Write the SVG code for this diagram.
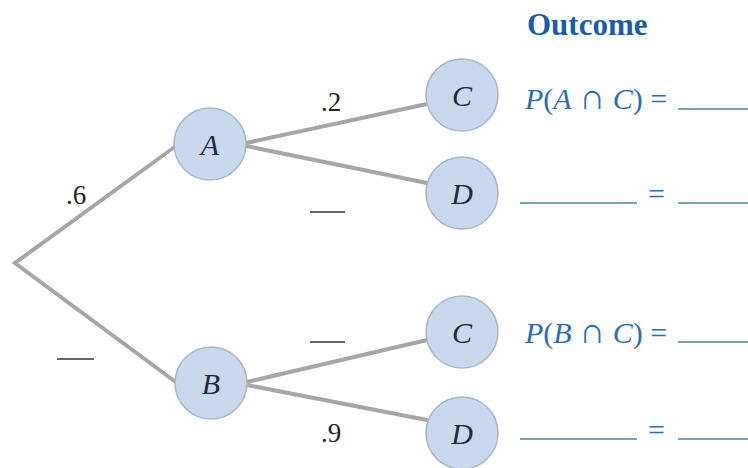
<svg xmlns="http://www.w3.org/2000/svg" width="748" height="468" viewBox="0 0 748 468">
  <style>
    .edge { stroke: #a6a6a6; stroke-width: 4; fill: none; stroke-linecap: round; }
    .node circle { fill: #c8d9ee; stroke: #a9b5c6; stroke-width: 1.5; }
    .node text { font-family: "Liberation Serif", serif; font-style: italic; font-size: 30px; fill: #1e2a3a; text-anchor: middle; }
    .prob { font-family: "Liberation Serif", serif; font-size: 27px; fill: #222; }
    .blank { stroke: #333; stroke-width: 1.5; }
    .head { font-family: "Liberation Serif", serif; font-weight: bold; font-size: 31px; fill: #1b5ca6; }
    .math { font-family: "Liberation Serif", serif; font-size: 30px; fill: #2b6cb8; }
    .math .i { font-style: italic; }
    .math .cap { font-size: 36px; }
    .fill { stroke: #4f8097; stroke-width: 1.5; }
  </style>

  <!-- branches -->
  <g id="connectors">
    <polyline class="edge" points="176,146 15,263 177,383"/>
    <line class="edge" x1="246" y1="143" x2="427" y2="104"/>
    <line class="edge" x1="246" y1="146" x2="427" y2="183"/>
    <line class="edge" x1="247" y1="382" x2="427" y2="340"/>
    <line class="edge" x1="247" y1="385" x2="427" y2="420"/>
  </g>

  <!-- branch probabilities -->
  <text class="prob" x="66" y="204">.6</text>
  <text class="prob" x="321" y="111">.2</text>
  <text class="prob" x="321" y="442">.9</text>
  <line class="blank" x1="57" y1="359" x2="94" y2="359"/>
  <line class="blank" x1="310" y1="212" x2="345" y2="212"/>
  <line class="blank" x1="310" y1="342" x2="345" y2="342"/>

  <!-- events -->
  <g id="node-A" class="node"><circle cx="210" cy="144" r="36"/><text x="210" y="155">A</text></g>
  <g id="node-B" class="node"><circle cx="211" cy="383" r="36"/><text x="211" y="394">B</text></g>
  <g id="node-AC" class="node"><circle cx="462" cy="95" r="36"/><text x="462" y="106">C</text></g>
  <g id="node-AD" class="node"><circle cx="462" cy="193" r="36"/><text x="462" y="204">D</text></g>
  <g id="node-BC" class="node"><circle cx="462" cy="332" r="36"/><text x="462" y="343">C</text></g>
  <g id="node-BD" class="node"><circle cx="462" cy="433" r="36"/><text x="462" y="444">D</text></g>

  <!-- outcome column -->
  <text class="head" x="527" y="35">Outcome</text>

  <text class="math" x="525" y="109"><tspan class="i">P</tspan>(<tspan class="i">A</tspan> <tspan class="cap">∩</tspan> <tspan class="i">C</tspan>) =</text>
  <line class="fill" x1="678" y1="109" x2="748" y2="109"/>

  <line class="fill" x1="520" y1="203" x2="637" y2="203"/>
  <text class="math" x="648" y="204">=</text>
  <line class="fill" x1="678" y1="203" x2="748" y2="203"/>

  <text class="math" x="525" y="343"><tspan class="i">P</tspan>(<tspan class="i">B</tspan> <tspan class="cap">∩</tspan> <tspan class="i">C</tspan>) =</text>
  <line class="fill" x1="678" y1="342" x2="748" y2="342"/>

  <line class="fill" x1="520" y1="439" x2="637" y2="439"/>
  <text class="math" x="648" y="440">=</text>
  <line class="fill" x1="678" y1="439" x2="748" y2="439"/>
</svg>
